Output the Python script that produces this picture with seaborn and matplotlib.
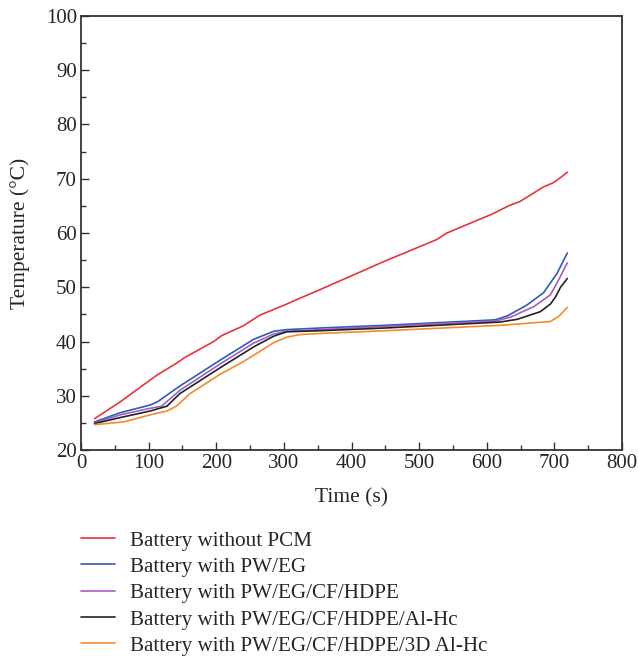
import matplotlib
matplotlib.use("Agg")
import matplotlib.pyplot as plt
import seaborn as sns
import pandas as pd
from matplotlib.ticker import MultipleLocator

sns.set_theme(style="ticks")
plt.rcParams['font.family'] = ['Liberation Serif', 'DejaVu Serif']

series_names = [
    "Battery without PCM",
    "Battery with PW/EG",
    "Battery with PW/EG/CF/HDPE",
    "Battery with PW/EG/CF/HDPE/Al-Hc",
    "Battery with PW/EG/CF/HDPE/3D Al-Hc",
]
colors = ["#e8343a", "#2a5cb8", "#a45ec0", "#222222", "#f58a2a"]

t_red = [20, 58, 112, 141, 154, 196, 208, 240, 265, 304, 324, 354, 447, 526, 541, 610, 632, 649, 684, 699, 711, 719]
v_red = [25.8, 28.9, 33.8, 36.0, 37.1, 40.0, 41.1, 42.9, 44.9, 46.9, 48.0, 49.6, 54.7, 58.8, 60.0, 63.6, 65.0, 65.8, 68.5, 69.3, 70.4, 71.2]

t_blue = [20, 58, 102, 113, 146, 206, 255, 285, 304, 354, 450, 612, 630, 659, 684, 704, 719]
v_blue = [25.2, 26.9, 28.3, 28.9, 31.8, 36.6, 40.4, 41.9, 42.2, 42.5, 43.0, 44.0, 44.7, 46.7, 49.0, 52.6, 56.3]

t_purple = [20, 58, 102, 119, 146, 206, 255, 285, 304, 354, 450, 614, 635, 669, 694, 706, 719]
v_purple = [25.0, 26.5, 27.7, 28.1, 31.0, 35.9, 39.7, 41.4, 41.9, 42.2, 42.8, 43.8, 44.5, 46.4, 48.6, 51.3, 54.5]

t_black = [20, 58, 102, 127, 146, 206, 255, 285, 304, 354, 450, 620, 645, 679, 694, 702, 709, 719]
v_black = [24.9, 26.0, 27.2, 28.1, 30.4, 35.2, 39.0, 41.0, 41.8, 42.0, 42.5, 43.6, 44.1, 45.5, 46.9, 48.3, 50.0, 51.6]

t_orange = [20, 63, 102, 127, 141, 161, 206, 240, 285, 304, 324, 354, 450, 621, 694, 706, 719]
v_orange = [24.7, 25.2, 26.5, 27.2, 28.1, 30.4, 34.0, 36.3, 39.8, 40.8, 41.3, 41.5, 42.0, 43.0, 43.7, 44.6, 46.3]

frames = []
for name, t, v in zip(series_names,
                      [t_red, t_blue, t_purple, t_black, t_orange],
                      [v_red, v_blue, v_purple, v_black, v_orange]):
    frames.append(pd.DataFrame({"Time": t, "Temp": v, "Series": name}))
df = pd.concat(frames, ignore_index=True)

fig = plt.figure(figsize=(6.38, 6.61), dpi=100)
ax = fig.add_axes([0.127, 0.319, 0.848, 0.657])

sns.lineplot(data=df, x="Time", y="Temp", hue="Series", hue_order=series_names,
             palette=colors, linewidth=1.2, ax=ax, sort=False, estimator=None)

ax.set_xlim(0, 800)
ax.set_ylim(20, 100)
ax.xaxis.set_major_locator(MultipleLocator(100))
ax.xaxis.set_minor_locator(MultipleLocator(50))
ax.yaxis.set_major_locator(MultipleLocator(10))
ax.yaxis.set_minor_locator(MultipleLocator(5))
ax.tick_params(which="both", direction="in", top=False, right=False, labelsize=15, color="#333333", pad=3)
ax.tick_params(which="major", length=6, width=1)
ax.tick_params(which="minor", length=3.5, width=1)
for s in ax.spines.values():
    s.set_linewidth(1.3)
    s.set_color("#333333")
ax.set_xlabel("Time (s)", fontsize=15.5, labelpad=11)
ax.set_ylabel("Temperature (°C)", fontsize=15.5, labelpad=11)

handles, labels = ax.get_legend_handles_labels()
ax.get_legend().remove()
fig.legend(handles, labels, loc="upper left", bbox_to_anchor=(0.127, 0.197),
           frameon=False, fontsize=15.2, handlelength=1.62, handletextpad=0.7,
           labelspacing=0.31, borderaxespad=0, borderpad=0)

fig.savefig("out.png", dpi=100)
